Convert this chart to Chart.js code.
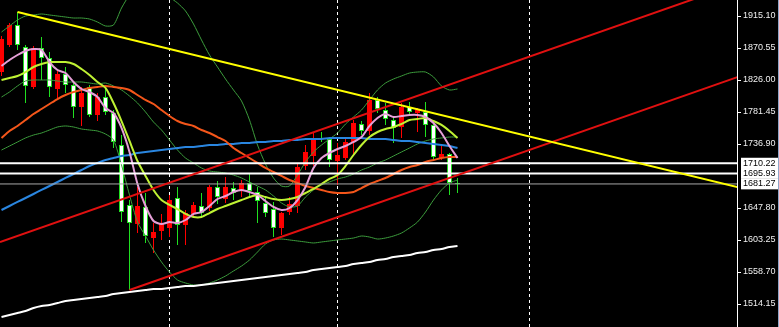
<!DOCTYPE html>
<html>
<head>
<meta charset="utf-8">
<script src="https://cdn.jsdelivr.net/npm/chart.js@4.4.1/dist/chart.umd.min.js"></script>
<style>
  html, body { margin: 0; padding: 0; background: #000; }
  #wrap { position: relative; width: 778px; height: 327px; border-right: 1px solid #8fa6c8; }
</style>
</head>
<body>
<div id="wrap"><canvas id="chart"></canvas></div>
<script>
// candles, oldest first (index = bar number)
const opens = [1837.1,1874.7,1902.6,1871.9,1816.3,1870.6,1856.6,1813.5,1834.4,1819.0,
  1788.4,1816.3,1777.3,1802.3,1780.1,1735.5,1652.0,1625.5,1649.2,1606.0,
  1615.8,1620.0,1661.7,1624.1,1639.5,1650.6,1647.8,1677.0,1660.3,1675.6,
  1672.9,1682.6,1670.1,1654.8,1646.4,1620.0,1642.2,1650.6,1706.3,1720.2,
  1745.3,1743.9,1713.2,1717.4,1739.7,1764.7,1755.0,1798.2,1784.2,1770.3,
  1760.6,1788.4,1780.1,1781.5,1763.4,1717.4,1723.0,1682.6];
const highs = [1887.3,1905.4,1920.7,1874.7,1873.3,1885.9,1865.0,1841.3,1844.1,1823.2,
  1816.3,1819.0,1807.9,1816.3,1784.2,1749.4,1658.9,1677.0,1668.7,1626.9,
  1639.5,1665.9,1677.0,1645.0,1656.2,1668.7,1679.8,1685.4,1691.0,1684.0,
  1686.8,1695.1,1677.0,1661.7,1656.2,1642.2,1663.1,1710.5,1735.5,1753.6,
  1753.6,1746.6,1738.3,1745.3,1770.3,1768.9,1807.9,1802.3,1794.0,1774.5,
  1794.0,1795.4,1787.0,1795.4,1766.1,1735.5,1724.4,1689.6];
const lows = [1831.6,1871.9,1867.8,1794.0,1813.5,1826.0,1802.3,1799.6,1807.9,1773.1,
  1762.0,1774.5,1768.9,1777.3,1731.3,1628.3,1533.6,1613.0,1599.1,1585.2,
  1603.3,1607.4,1596.3,1596.3,1635.3,1635.3,1643.6,1653.4,1654.8,1658.9,
  1663.1,1663.1,1626.9,1635.3,1607.4,1610.2,1638.1,1640.8,1700.7,1706.3,
  1739.7,1704.9,1679.8,1714.6,1721.6,1749.4,1749.4,1780.1,1763.4,1738.3,
  1745.3,1777.3,1753.6,1746.6,1714.6,1714.6,1665.9,1668.7];
const closes = [1883.1,1902.6,1874.7,1817.7,1870.6,1856.6,1816.3,1834.4,1819.0,1788.4,
  1807.9,1777.3,1802.3,1781.5,1739.7,1642.2,1626.9,1650.6,1608.8,1614.4,
  1626.9,1658.9,1624.1,1640.8,1652.0,1640.8,1677.0,1663.1,1677.0,1668.7,
  1682.6,1671.5,1657.5,1640.8,1620.0,1640.8,1653.4,1704.9,1725.8,1742.5,
  1743.2,1714.6,1721.6,1739.7,1766.1,1755.0,1798.2,1785.6,1771.7,1759.2,
  1788.4,1781.5,1784.2,1763.4,1718.8,1723.0,1682.6,1681.27];

// moving averages
const maFast = [1845.5,1853.8,1860.8,1866.4,1869.2,1867.8,1851.0,1839.9,1835.7,1823.2,
  1813.5,1809.3,1802.3,1787.0,1780.1,1759.2,1725.8,1681.2,1650.6,1629.7,
  1625.5,1628.3,1626.9,1631.1,1639.5,1642.2,1650.6,1660.3,1664.5,1670.1,
  1672.9,1670.1,1665.9,1657.5,1649.2,1645.0,1647.8,1658.9,1677.0,1703.5,
  1717.4,1724.4,1729.9,1734.1,1739.7,1746.6,1762.0,1773.1,1778.7,1774.5,
  1775.9,1777.3,1777.3,1774.5,1766.1,1752.2,1734.1,1717.4];
const maMid = [1826.0,1828.8,1831.6,1837.1,1844.1,1848.3,1851.0,1851.0,1851.0,1848.3,
  1841.3,1833.0,1823.2,1814.9,1794.0,1768.9,1741.1,1713.2,1692.4,1672.9,
  1658.9,1652.0,1646.4,1639.5,1635.3,1635.3,1640.8,1646.4,1650.6,1654.8,
  1658.9,1663.1,1665.9,1663.1,1660.3,1658.9,1660.3,1663.1,1668.7,1674.3,
  1681.2,1688.2,1693.7,1706.3,1721.6,1735.5,1746.6,1753.6,1757.8,1760.6,
  1764.7,1770.3,1771.7,1773.1,1768.9,1763.4,1755.0,1745.3];
const maSlow = [1745.3,1755.0,1762.0,1770.3,1778.7,1785.6,1792.6,1799.5,1805.1,1809.3,
  1812.1,1814.9,1816.3,1817.7,1816.3,1814.9,1812.1,1805.1,1798.2,1792.6,
  1784.2,1775.9,1768.9,1764.7,1762.0,1756.4,1752.2,1746.6,1741.1,1731.3,
  1724.4,1717.4,1710.5,1703.5,1697.9,1692.4,1686.8,1682.6,1678.4,1675.6,
  1672.9,1670.1,1668.7,1668.7,1670.1,1675.6,1681.2,1685.4,1689.6,1695.1,
  1700.7,1704.9,1707.7,1711.9,1714.6,1717.4,1718.8,1718.8];
const maLong = [1645.0,1650.6,1656.2,1661.7,1667.3,1672.9,1678.4,1684.0,1689.6,1695.1,
  1700.7,1706.3,1710.5,1714.6,1717.4,1720.2,1721.6,1724.4,1725.8,1727.1,
  1728.5,1729.9,1731.3,1732.7,1732.7,1734.1,1735.5,1735.5,1736.9,1736.9,
  1738.3,1738.3,1739.7,1739.7,1741.1,1741.1,1742.5,1742.5,1743.9,1743.9,
  1743.9,1745.3,1745.3,1745.3,1745.3,1745.3,1743.9,1743.9,1743.9,1742.5,
  1741.1,1741.1,1739.7,1738.3,1736.9,1735.5,1734.1,1731.3];
const ma200 = [1496.1,1498.8,1501.6,1504.4,1508.6,1511.4,1512.8,1515.5,1518.3,1519.7,
  1521.1,1522.5,1523.9,1525.3,1528.1,1529.5,1530.8,1532.2,1533.6,1535.0,
  1535.0,1536.4,1537.8,1539.2,1539.2,1540.6,1542.0,1543.4,1544.8,1546.2,
  1547.6,1548.9,1550.3,1551.7,1553.1,1554.5,1555.9,1557.3,1558.7,1561.5,
  1562.9,1564.3,1565.7,1567.0,1569.8,1571.2,1572.6,1575.4,1576.8,1579.6,
  1581.0,1582.4,1585.2,1586.5,1589.3,1590.7,1593.5,1594.9];

// bollinger bands
const bbUpper = [1892.8,1901.2,1909.5,1915.1,1916.5,1917.9,1916.5,1915.1,1913.7,1912.3,
  1912.3,1910.9,1906.7,1901.2,1902.6,1926.2,1945.7,1972.2,1979.1,1972.2,
  1954.1,1941.6,1933.2,1922.1,1904.0,1881.7,1860.8,1844.1,1827.4,1812.1,
  1796.8,1770.3,1735.5,1709.1,1689.6,1678.4,1678.4,1693.8,1711.8,1725.8,
  1735.5,1743.9,1752.2,1764.7,1774.5,1784.2,1798.2,1812.1,1821.8,1827.4,
  1831.6,1835.7,1837.1,1837.1,1830.2,1817.7,1812.1,1813.5];
const bbMiddle = [1802.3,1809.3,1817.7,1824.6,1826.0,1826.0,1826.0,1824.6,1823.2,1823.2,
  1823.2,1821.8,1820.4,1821.8,1817.7,1812.1,1803.7,1794.0,1781.5,1767.5,
  1756.4,1742.5,1728.5,1717.4,1710.5,1703.5,1699.3,1697.9,1696.5,1693.7,
  1689.6,1684.0,1678.4,1672.9,1664.5,1654.8,1649.2,1650.6,1663.1,1672.9,
  1679.8,1684.0,1688.2,1691.0,1695.1,1700.7,1704.9,1710.5,1714.6,1720.2,
  1725.8,1731.3,1737.0,1741.1,1743.9,1745.3,1746.6,1746.6];
const bbLower = [1728.5,1734.1,1739.7,1745.3,1749.4,1752.2,1756.4,1760.6,1762.0,1760.6,
  1757.8,1756.4,1755.0,1750.8,1742.5,1707.7,1665.9,1628.3,1608.8,1589.3,
  1572.6,1558.7,1547.6,1543.4,1540.6,1540.6,1543.4,1547.6,1553.1,1560.1,
  1567.0,1575.4,1586.5,1597.7,1603.3,1604.6,1603.3,1601.9,1600.5,1599.1,
  1600.5,1601.9,1603.3,1604.6,1606.0,1608.8,1607.4,1604.6,1606.0,1608.8,
  1613.0,1620.0,1628.3,1642.2,1658.9,1672.9,1682.6,1686.8];

// drawn objects: [bar, price] end points
const yellowTrend = [[2, 1920.7], [92, 1677.0]];
const channelUpper = [[-0.1875, 1600.5], [92, 1960.0]];
const channelLower = [[16, 1533.6], [92, 1830.0]];
const levels = [1710.22, 1695.93];
const bidPrice = 1681.27;
const separators = [21, 42, 66];

// price axis
const priceTicks = [1514.15, 1558.70, 1603.25, 1647.80, 1736.90, 1781.45, 1826.00, 1870.55, 1915.10];
const markerPrices = [1681.27, 1695.93, 1710.22];

const X_MIN = -0.1875, X_MAX = 91.9375;
const isMarker = v => markerPrices.includes(v);
const isUp = i => closes[i] >= opens[i];

const RED = '#ff0000', GREEN = '#20e020';

function pts(pairs) {
  return pairs.map(p => ({ x: p[0], y: p[1] }));
}
function series(vals, color, width, order) {
  return {
    type: 'line', data: vals.map((v, i) => ({ x: i, y: v })),
    borderColor: color, borderWidth: width, pointRadius: 0, tension: 0.25, fill: false, order
  };
}
function segment(pairs, color, width, order) {
  return { type: 'line', data: pts(pairs), borderColor: color, borderWidth: width, pointRadius: 0, tension: 0, fill: false, order };
}

new Chart(document.getElementById('chart'), {
  type: 'bar',
  data: {
    datasets: [
      segment(yellowTrend, '#ffff00', 2, 1),
      segment(channelUpper, '#e01010', 2, 1),
      segment(channelLower, '#e01010', 2, 1),
      segment([[X_MIN, levels[0]], [X_MAX, levels[0]]], '#ffffff', 2, 2),
      segment([[X_MIN, levels[1]], [X_MAX, levels[1]]], '#ffffff', 2, 2),
      segment([[X_MIN, bidPrice], [X_MAX, bidPrice]], '#a8a8a8', 1, 3),
      series(maFast, '#e6a0d8', 2, 4),
      series(maMid, '#bff233', 2, 5),
      series(maSlow, '#f4561a', 2, 6),
      series(maLong, '#2a86e0', 2, 7),
      series(ma200, '#ffffff', 2, 8),
      series(bbUpper, '#3c9c3c', 1, 9),
      series(bbMiddle, '#3c9c3c', 1, 9),
      series(bbLower, '#3c9c3c', 1, 9),
      {
        // candle bodies
        type: 'bar',
        data: opens.map((o, i) => ({ x: i, y: [o, closes[i]] })),
        backgroundColor: ctx => isUp(ctx.dataIndex || 0) ? RED : '#ffffff',
        borderColor: ctx => isUp(ctx.dataIndex || 0) ? RED : GREEN,
        borderWidth: 1,
        borderSkipped: false,
        barThickness: 5,
        minBarLength: 1,
        grouped: false,
        inflateAmount: 0,
        order: 19
      },
      {
        // wicks
        type: 'bar',
        data: lows.map((l, i) => ({ x: i, y: [l, highs[i]] })),
        backgroundColor: ctx => isUp(ctx.dataIndex || 0) ? RED : GREEN,
        borderWidth: 0,
        barThickness: 1,
        grouped: false,
        inflateAmount: 0,
        order: 20
      }
    ]
  },
  options: {
    responsive: true,
    maintainAspectRatio: false,
    animation: false,
    devicePixelRatio: 1,
    events: [],
    layout: { padding: 0 },
    plugins: { legend: { display: false }, tooltip: { enabled: false } },
    scales: {
      x: {
        type: 'linear',
        min: X_MIN,
        max: X_MAX,
        offset: false,
        bounds: 'data',
        afterBuildTicks: s => { s.ticks = separators.map(v => ({ value: v })); },
        afterFit: s => { s.height = 0; s.paddingLeft = 0; s.paddingRight = 0; },
        ticks: { display: false },
        grid: { offset: false, color: '#ffffff', lineWidth: 1, drawTicks: false },
        border: { display: false, dash: [3, 3] }
      },
      y: {
        type: 'linear',
        position: 'right',
        min: 1482.13,
        max: 1937.375,
        bounds: 'data',
        afterBuildTicks: s => { s.ticks = priceTicks.concat(markerPrices).map(v => ({ value: v })); },
        afterFit: s => { s.width = 41; s.paddingTop = 0; s.paddingBottom = 0; },
        ticks: {
          autoSkip: false,
          padding: 2,
          font: { family: "'Liberation Sans', Arial, sans-serif", size: 9 },
          color: ctx => (ctx.tick && isMarker(ctx.tick.value)) ? '#000000' : '#f0f0f0',
          showLabelBackdrop: ctx => !!(ctx.tick && isMarker(ctx.tick.value)),
          backdropColor: '#ffffff',
          backdropPadding: { left: 2, right: 3, top: 0, bottom: 0 },
          callback: v => Number(v).toFixed(2)
        },
        grid: {
          drawOnChartArea: false,
          tickLength: 4,
          tickColor: ctx => (ctx.tick && isMarker(ctx.tick.value)) ? 'rgba(0,0,0,0)' : '#ffffff'
        },
        border: { color: '#ffffff', width: 1 }
      }
    }
  }
});
</script>
</body>
</html>
